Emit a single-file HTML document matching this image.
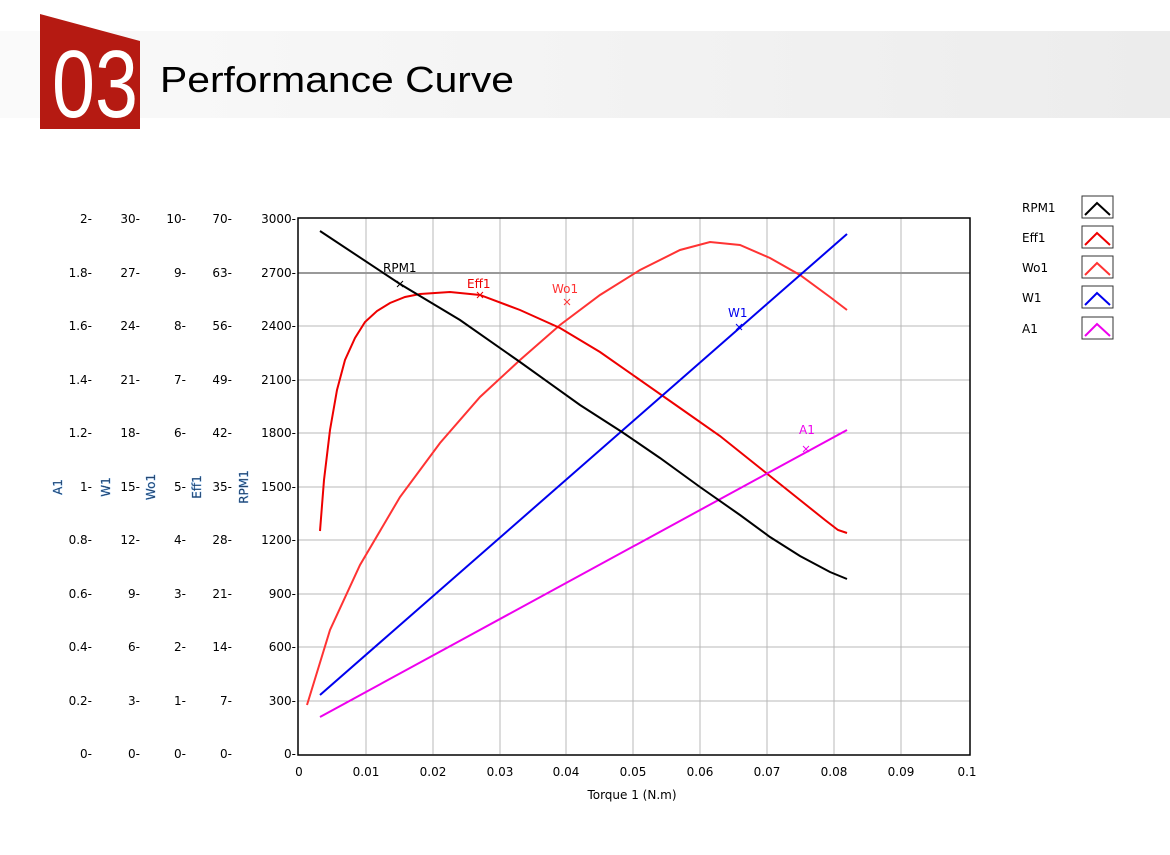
<!DOCTYPE html>
<html><head><meta charset="utf-8"><style>
body{margin:0;background:#fff;}
svg{display:block;font-family:"DejaVu Sans","Liberation Sans",sans-serif;}
</style></head><body>
<svg width="1170" height="855" viewBox="0 0 1170 855" xmlns="http://www.w3.org/2000/svg">
<defs><linearGradient id="hg" x1="0" x2="1" y1="0" y2="0"><stop offset="0" stop-color="#fafafa"/><stop offset="1" stop-color="#ececec"/></linearGradient></defs>
<rect x="0" y="31" width="1170" height="87" fill="url(#hg)"/>
<polygon points="40,14 140,41 140,129 40,129" fill="#b51a12"/>
<text x="52" y="117" font-family="Liberation Sans,sans-serif" font-size="96" fill="#fff" textLength="86" lengthAdjust="spacingAndGlyphs">03</text>
<text x="160" y="92" font-family="Liberation Sans,sans-serif" font-size="36" fill="#000" textLength="354" lengthAdjust="spacingAndGlyphs">Performance Curve</text>
<g stroke="#b8b8b8" stroke-width="1">
<line x1="366" y1="218" x2="366" y2="754"/><line x1="433" y1="218" x2="433" y2="754"/><line x1="500" y1="218" x2="500" y2="754"/><line x1="566" y1="218" x2="566" y2="754"/><line x1="633" y1="218" x2="633" y2="754"/><line x1="700" y1="218" x2="700" y2="754"/><line x1="767" y1="218" x2="767" y2="754"/><line x1="834" y1="218" x2="834" y2="754"/><line x1="901" y1="218" x2="901" y2="754"/>
<line x1="298" y1="326" x2="970" y2="326"/><line x1="298" y1="380" x2="970" y2="380"/><line x1="298" y1="433" x2="970" y2="433"/><line x1="298" y1="487" x2="970" y2="487"/><line x1="298" y1="540" x2="970" y2="540"/><line x1="298" y1="594" x2="970" y2="594"/><line x1="298" y1="647" x2="970" y2="647"/><line x1="298" y1="701" x2="970" y2="701"/>
</g>
<line x1="298" y1="273" x2="970" y2="273" stroke="#999" stroke-width="2"/>
<rect x="298" y="218" width="672" height="537" fill="none" stroke="#000" stroke-width="1.5"/>
<g font-size="12" fill="#000" text-anchor="end">
<text x="92" y="223">2-</text><text x="92" y="277">1.8-</text><text x="92" y="330">1.6-</text><text x="92" y="384">1.4-</text><text x="92" y="437">1.2-</text><text x="92" y="491">1-</text><text x="92" y="544">0.8-</text><text x="92" y="598">0.6-</text><text x="92" y="651">0.4-</text><text x="92" y="705">0.2-</text><text x="92" y="758">0-</text>
<text x="140" y="223">30-</text><text x="140" y="277">27-</text><text x="140" y="330">24-</text><text x="140" y="384">21-</text><text x="140" y="437">18-</text><text x="140" y="491">15-</text><text x="140" y="544">12-</text><text x="140" y="598">9-</text><text x="140" y="651">6-</text><text x="140" y="705">3-</text><text x="140" y="758">0-</text>
<text x="186" y="223">10-</text><text x="186" y="277">9-</text><text x="186" y="330">8-</text><text x="186" y="384">7-</text><text x="186" y="437">6-</text><text x="186" y="491">5-</text><text x="186" y="544">4-</text><text x="186" y="598">3-</text><text x="186" y="651">2-</text><text x="186" y="705">1-</text><text x="186" y="758">0-</text>
<text x="232" y="223">70-</text><text x="232" y="277">63-</text><text x="232" y="330">56-</text><text x="232" y="384">49-</text><text x="232" y="437">42-</text><text x="232" y="491">35-</text><text x="232" y="544">28-</text><text x="232" y="598">21-</text><text x="232" y="651">14-</text><text x="232" y="705">7-</text><text x="232" y="758">0-</text>
<text x="296" y="223">3000-</text><text x="296" y="277">2700-</text><text x="296" y="330">2400-</text><text x="296" y="384">2100-</text><text x="296" y="437">1800-</text><text x="296" y="491">1500-</text><text x="296" y="544">1200-</text><text x="296" y="598">900-</text><text x="296" y="651">600-</text><text x="296" y="705">300-</text><text x="296" y="758">0-</text>
</g>
<g font-size="12" fill="#1a2a44" stroke="#4a90d9" stroke-width="0.4" text-anchor="middle">
<text transform="translate(62,487) rotate(-90)">A1</text>
<text transform="translate(110,487) rotate(-90)">W1</text>
<text transform="translate(155,487) rotate(-90)">Wo1</text>
<text transform="translate(201,487) rotate(-90)">Eff1</text>
<text transform="translate(248,487) rotate(-90)">RPM1</text>
</g>
<g font-size="12" fill="#000" text-anchor="middle">
<text x="299" y="776">0</text><text x="366" y="776">0.01</text><text x="433" y="776">0.02</text><text x="500" y="776">0.03</text><text x="566" y="776">0.04</text><text x="633" y="776">0.05</text><text x="700" y="776">0.06</text><text x="767" y="776">0.07</text><text x="834" y="776">0.08</text><text x="901" y="776">0.09</text><text x="967" y="776">0.1</text>
<text x="632" y="799">Torque 1 (N.m)</text>
</g>
<g fill="none" stroke-width="2">
<polyline stroke="#ff3333" points="307,705 330,630 360,565 400,497 440,443 480,397 520,360 560,325 600,295 640,270 680,250 710,242 740,245 770,258 800,275 830,297 847,310"/>
<polyline stroke="#ee0000" points="320,531 324,480 330,430 337,390 345,360 355,338 365,322 377,311 390,303 405,297 420,294 450,292 480,295 520,310 560,328 600,352 640,380 680,408 720,436 760,468 800,500 825,520 838,530 847,533"/>
<polyline stroke="#0000ee" points="320,695 847,234"/>
<polyline stroke="#ee00ee" points="320,717 847,430"/>
<polyline stroke="#000" points="320,231 400,284 460,320 520,362 580,405 622,432 660,458 700,487 740,515 770,537 800,556 830,572 847,579"/>
</g>
<g font-size="12" stroke-width="1">
<text x="383" y="272" fill="#000">RPM1</text><path d="M397,281l6,6M403,281l-6,6" stroke="#000"/>
<text x="467" y="288" fill="#ee0000">Eff1</text><path d="M477,292l6,6M483,292l-6,6" stroke="#ee0000"/>
<text x="552" y="293" fill="#ff3333">Wo1</text><path d="M564,299l6,6M570,299l-6,6" stroke="#ff3333"/>
<text x="728" y="317" fill="#0000ee">W1</text><path d="M736,324l6,6M742,324l-6,6" stroke="#0000ee"/>
<text x="799" y="434" fill="#ee00ee">A1</text><path d="M803,446l6,6M809,446l-6,6" stroke="#ee00ee"/>
</g>
<g font-size="12" fill="#000">
<text x="1022" y="212">RPM1</text><text x="1022" y="242">Eff1</text><text x="1022" y="272">Wo1</text><text x="1022" y="302">W1</text><text x="1022" y="333">A1</text>
</g>
<g fill="#fff" stroke="#333" stroke-width="1">
<rect x="1082" y="196" width="31" height="22"/><rect x="1082" y="226" width="31" height="22"/><rect x="1082" y="256" width="31" height="22"/><rect x="1082" y="286" width="31" height="22"/><rect x="1082" y="317" width="31" height="22"/>
</g>
<g fill="none" stroke-width="2">
<polyline stroke="#000" points="1085,215 1097,203 1110,215"/>
<polyline stroke="#ee0000" points="1085,245 1097,233 1110,245"/>
<polyline stroke="#ff3333" points="1085,275 1097,263 1110,275"/>
<polyline stroke="#0000ee" points="1085,305 1097,293 1110,305"/>
<polyline stroke="#ee00ee" points="1085,336 1097,324 1110,336"/>
</g>
</svg>
</body></html>
